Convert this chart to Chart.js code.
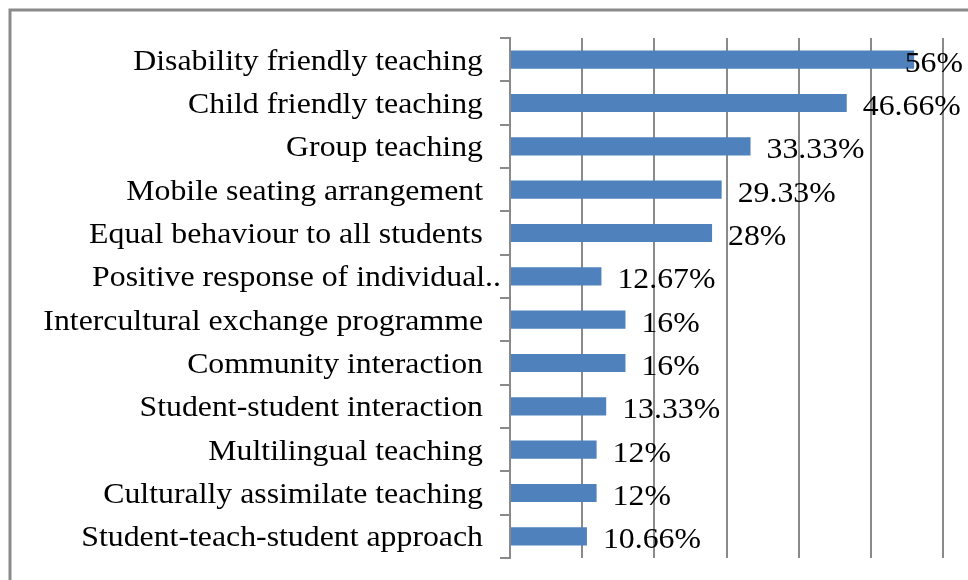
<!DOCTYPE html>
<html>
<head>
<meta charset="utf-8">
<script src="https://cdn.jsdelivr.net/npm/chart.js@4.4.0/dist/chart.umd.min.js"></script>
<style>
  body { margin: 0; background: #fff; }
  canvas { display: block; }
</style>
</head>
<body>
<canvas id="chart" width="968" height="580"></canvas>
<script>
// categories top to bottom
const categories = [
  "Disability friendly teaching",
  "Child friendly teaching",
  "Group teaching",
  "Mobile seating arrangement",
  "Equal behaviour to all students",
  "Positive response of individual..",
  "Intercultural exchange programme",
  "Community interaction",
  "Student-student interaction",
  "Multilingual teaching",
  "Culturally assimilate teaching",
  "Student-teach-student approach"
];
const values = [56, 46.66, 33.33, 29.33, 28, 12.67, 16, 16, 13.33, 12, 12, 10.66];
const valueLabels = ["56%", "46.66%", "33.33%", "29.33%", "28%", "12.67%", "16%", "16%", "13.33%", "12%", "12%", "10.66%"];

const FONT = '30px "Liberation Serif", "Times New Roman", serif';
const STRETCH = 1.06; // text in the picture is a bit wider than normal

function stretchedText(ctx, text, x, y, align) {
  const w = ctx.measureText(text).width * STRETCH;
  const left = align === "right" ? x - w : x;
  ctx.save();
  ctx.translate(left, y);
  ctx.scale(STRETCH, 1);
  ctx.textAlign = "left";
  ctx.fillText(text, 0, 0);
  ctx.restore();
}

// frame around the chart (only top and left edges are visible)
const framePlugin = {
  id: "frame",
  beforeDraw(chart) {
    const ctx = chart.ctx;
    ctx.save();
    ctx.strokeStyle = "#8a8a8a";
    ctx.lineWidth = 3;
    ctx.beginPath();
    ctx.moveTo(10, 580);
    ctx.lineTo(10, 10);
    ctx.lineTo(968, 10);
    ctx.stroke();
    ctx.restore();
  }
};

// category names and value labels
const labelsPlugin = {
  id: "labels",
  afterDatasetsDraw(chart) {
    const ctx = chart.ctx;
    const xs = chart.scales.x;
    const ys = chart.scales.y;
    ctx.save();
    ctx.font = FONT;
    ctx.fillStyle = "#000";
    ctx.textBaseline = "alphabetic";
    categories.forEach((c, i) => {
      const y = ys.getPixelForValue(i) + 10;
      const right = c.endsWith("..") ? 501 : 483;
      stretchedText(ctx, c, right, y, "right");
    });
    values.forEach((v, i) => {
      const y = ys.getPixelForValue(i) + 12;
      const w = ctx.measureText(valueLabels[i]).width * STRETCH;
      let x = xs.getPixelForValue(v) + 16;
      if (x + w > 963) x = 963 - w;
      stretchedText(ctx, valueLabels[i], x, y, "left");
    });
    ctx.restore();
  }
};

new Chart(document.getElementById("chart"), {
  type: "bar",
  data: {
    labels: categories,
    datasets: [{
      data: values,
      backgroundColor: "#4f81bd",
      borderWidth: 0,
      barPercentage: 0.42,
      categoryPercentage: 1
    }]
  },
  options: {
    indexAxis: "y",
    responsive: false,
    animation: false,
    events: [],
    layout: { padding: { top: 38, right: 25, bottom: 22, left: 0 } },
    plugins: { legend: { display: false }, tooltip: { enabled: false } },
    scales: {
      x: {
        min: 0,
        max: 60,
        ticks: { display: false, stepSize: 10 },
        grid: { color: "#8a8a8a", lineWidth: 2, drawTicks: false },
        border: { display: false }
      },
      y: {
        ticks: { display: false },
        grid: { drawOnChartArea: false, drawTicks: true, tickLength: 10, color: "#8a8a8a", lineWidth: 2, offset: true },
        border: { display: true, color: "#8a8a8a", width: 2 },
        afterFit(scale) { scale.width = 510; }
      }
    }
  },
  plugins: [framePlugin, labelsPlugin]
});
</script>
</body>
</html>
